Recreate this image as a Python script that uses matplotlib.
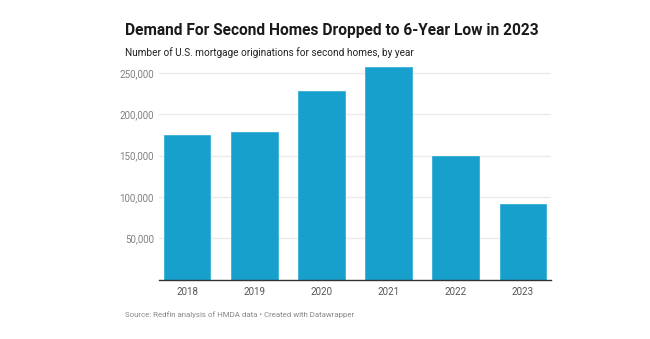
import matplotlib
matplotlib.use("Agg")
import matplotlib.pyplot as plt
from matplotlib.ticker import FuncFormatter

years = ["2018", "2019", "2020", "2021", "2022", "2023"]
originations = [175000, 179000, 228500, 257500, 150000, 91000]
yticks = [50000, 100000, 150000, 200000, 250000]

plt.rcParams['font.family'] = ['Roboto', 'DejaVu Sans']

fig = plt.figure(figsize=(6.5, 3.39), dpi=100)
fig.patch.set_facecolor('white')
W, H = 650, 339
ax = fig.add_axes([159.3 / W, 1 - 279.7 / H, (550.7 - 159.3) / W, (279.7 - 62.8) / H])

x = range(len(years))
ax.bar(x, originations, width=0.69, color='#18a0cc', edgecolor='#3aaed6', linewidth=0.6, zorder=3)
ax.set_xlim(-0.418, len(years) - 1 + 0.418)
ax.set_ylim(0, 262000)
ax.set_yticks(yticks)
ax.yaxis.set_major_formatter(FuncFormatter(lambda v, p: f"{int(v):,}"))
ax.set_xticks(list(x))
ax.set_xticklabels(years)
ax.grid(axis='y', color='#ebebeb', linewidth=1.0, zorder=0)
for s in ['top', 'right', 'left']:
    ax.spines[s].set_visible(False)
ax.spines['bottom'].set_color('#333333')
ax.spines['bottom'].set_linewidth(1.0)
ax.spines['bottom'].set_zorder(4)
ax.tick_params(axis='y', length=0, pad=4, labelsize=7, labelcolor='#808080')
ax.tick_params(axis='x', length=0, pad=5, labelsize=7, labelcolor='#555555')

fig.text(125 / W, 1 - 31 / H, "Demand For Second Homes Dropped to 6-Year Low in 2023",
         fontsize=11.2, fontweight='bold', color='#1a1a1a', va='center', ha='left')
fig.text(125 / W, 1 - 52.5 / H, "Number of U.S. mortgage originations for second homes, by year",
         fontsize=7.2, color='#222222', va='center', ha='left')
fig.text(125 / W, 1 - 314.5 / H, "Source: Redfin analysis of HMDA data \u2022 Created with Datawrapper",
         fontsize=5.7, color='#888888', va='center', ha='left')

fig.savefig("out.png", dpi=100, facecolor='white')
